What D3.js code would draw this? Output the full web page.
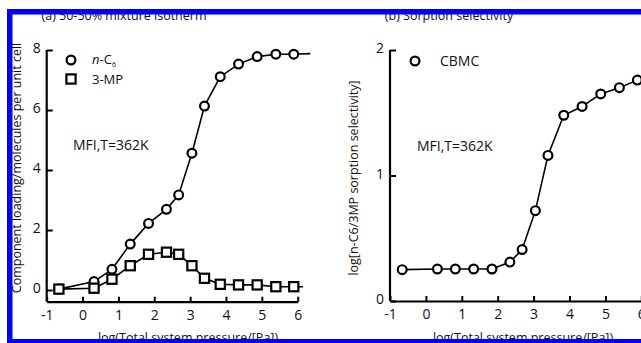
<!DOCTYPE html>
<html>
<head>
<meta charset="utf-8">
<script src="https://cdn.jsdelivr.net/npm/d3@7/dist/d3.min.js"></script>
<style>
  html, body { margin: 0; padding: 0; background: #fff; }
  svg { display: block; }
  text { font-family: "Open Sans", "Noto Sans", sans-serif; fill: #111; }
</style>
</head>
<body>
<svg id="chart" width="641" height="343"></svg>
<script>
// log10 of total system pressure (Pa) for each simulated state point
const logP = [-0.66, 0.32, 0.82, 1.33, 1.84, 2.34, 2.68, 3.05, 3.40, 3.84, 4.35, 4.87, 5.39, 5.89];

// (a) component loadings, molecules per unit cell
const loadNC6 = [0.03, 0.28, 0.69, 1.53, 2.22, 2.69, 3.17, 4.56, 6.13, 7.11, 7.53, 7.78, 7.86, 7.86];
const load3MP = [0.03, 0.06, 0.36, 0.81, 1.19, 1.26, 1.19, 0.81, 0.39, 0.19, 0.17, 0.17, 0.11, 0.11];
const tailNC6 = [6.35, 7.88];
const tail3MP = [6.15, 0.11];

// (b) log of n-C6 / 3-MP sorption selectivity
const logSel = [0.25, 0.255, 0.255, 0.255, 0.255, 0.31, 0.41, 0.72, 1.16, 1.48, 1.55, 1.65, 1.70, 1.76];

const xTicks = [-1, 0, 1, 2, 3, 4, 5, 6];
const yTicksA = [0, 2, 4, 6, 8];
const yTicksB = [0, 1, 2];

const svg = d3.select("#chart");
const plain = d => String(d);   // hyphen-minus labels, e.g. "-1"

function drawAxes(g, x, y, yTicks, axisY) {
  const xAxis = d3.axisBottom(x).tickValues(xTicks).tickSizeInner(-5).tickSizeOuter(0).tickPadding(8)
    .tickFormat(plain);
  const gx = g.append("g").attr("transform", `translate(0,${axisY})`).call(xAxis);
  const yAxis = d3.axisLeft(y).tickValues(yTicks).tickSizeInner(-6).tickSizeOuter(0).tickPadding(6)
    .tickFormat(plain);
  const gy = g.append("g").attr("transform", `translate(${x.range()[0]},0)`).call(yAxis);
  [gx, gy].forEach(a => {
    a.select(".domain").attr("stroke", "#000").attr("stroke-width", 2.2);
    a.selectAll(".tick line").attr("stroke", "#000").attr("stroke-width", 2);
    a.selectAll(".tick text").style("font-size", "14px").style("font-family", "Open Sans, sans-serif").attr("fill", "#111");
  });
  // vertical axis runs from its top tick down to the horizontal axis
  gy.select(".domain").attr("d", `M0,${y.range()[1]}V${axisY}`);
  gy.selectAll(".tick text").attr("dy", "0.2em");
}

function lineOf(x, y, xs, ys) {
  return d3.line().x((d, i) => x(xs[i])).y((d, i) => y(ys[i]))(ys);
}

// ---- panel (a): mixture isotherm ----
{
  const x = d3.scaleLinear().domain([-1, 6]).range([46.7, 297.7]);
  const y = d3.scaleLinear().domain([-0.39, 8]).range([301.7, 50]);
  const g = svg.append("g");
  drawAxes(g, x, y, yTicksA, 301.7);

  const xsN = logP.concat([tailNC6[0]]), ysN = loadNC6.concat([tailNC6[1]]);
  const xsM = logP.concat([tail3MP[0]]), ysM = load3MP.concat([tail3MP[1]]);
  g.append("path").attr("d", lineOf(x, y, xsN, ysN)).attr("fill", "none").attr("stroke", "#000").attr("stroke-width", 1.6);
  g.append("path").attr("d", lineOf(x, y, xsM, ysM)).attr("fill", "none").attr("stroke", "#000").attr("stroke-width", 1.6);

  g.selectAll("circle.nc6").data(loadNC6).join("circle").attr("class", "nc6")
    .attr("cx", (d, i) => x(logP[i])).attr("cy", d => y(d)).attr("r", 4.4)
    .attr("fill", "#fff").attr("stroke", "#000").attr("stroke-width", 2.2);
  g.selectAll("rect.mp").data(load3MP).join("rect").attr("class", "mp")
    .attr("x", (d, i) => x(logP[i]) - 4.6).attr("y", d => y(d) - 4.6).attr("width", 9.2).attr("height", 9.2)
    .attr("fill", "#fff").attr("stroke", "#000").attr("stroke-width", 2.2);

  // legend
  g.append("circle").attr("cx", 71).attr("cy", 60).attr("r", 4.4).attr("fill", "#fff").attr("stroke", "#000").attr("stroke-width", 2.2);
  const t1 = g.append("text").attr("x", 92).attr("y", 64).style("font-size", "13px");
  t1.append("tspan").text("n").style("font-style", "italic");
  t1.append("tspan").text("-C");
  t1.append("tspan").text("6").attr("dy", 3).style("font-size", "7px");
  g.append("rect").attr("x", 66.4).attr("y", 74.4).attr("width", 9.2).attr("height", 9.2).attr("fill", "#fff").attr("stroke", "#000").attr("stroke-width", 2.2);
  g.append("text").attr("x", 92).attr("y", 84).style("font-size", "13px").text("3-MP");
  g.append("text").attr("x", 73).attr("y", 150).style("font-size", "14px").text("MFI,T=362K");

  g.append("text").attr("x", 124).attr("y", 20).attr("text-anchor", "middle").style("font-size", "12.5px").attr("fill", "#222")
    .text("(a) 50-50% mixture isotherm");
  g.append("text").attr("x", 188).attr("y", 341.5).attr("text-anchor", "middle").style("font-size", "12.5px").attr("fill", "#222")
    .text("log(Total system pressure/[Pa])");
  g.append("text").attr("transform", "translate(21,168) rotate(-90)").attr("text-anchor", "middle")
    .style("font-size", "12.5px").attr("fill", "#222").text("Component loading/molecules per unit cell");
}

// ---- panel (b): sorption selectivity ----
{
  const x = d3.scaleLinear().domain([-1, 6]).range([390, 641.3]);
  const y = d3.scaleLinear().domain([0, 2]).range([301, 50]);
  const g = svg.append("g");
  drawAxes(g, x, y, yTicksB, 301);

  g.append("path").attr("d", lineOf(x, y, logP, logSel)).attr("fill", "none").attr("stroke", "#000").attr("stroke-width", 1.6);
  g.selectAll("circle.sel").data(logSel).join("circle").attr("class", "sel")
    .attr("cx", (d, i) => x(logP[i])).attr("cy", d => y(d)).attr("r", 4.4)
    .attr("fill", "#fff").attr("stroke", "#000").attr("stroke-width", 2.2);

  g.append("circle").attr("cx", 415).attr("cy", 61).attr("r", 4.4).attr("fill", "#fff").attr("stroke", "#000").attr("stroke-width", 2.2);
  g.append("text").attr("x", 440).attr("y", 66).style("font-size", "14px").text("CBMC");
  g.append("text").attr("x", 417).attr("y", 151).style("font-size", "14px").text("MFI,T=362K");

  g.append("text").attr("x", 449).attr("y", 20).attr("text-anchor", "middle").style("font-size", "12.5px").attr("fill", "#222")
    .text("(b) Sorption selectivity");
  g.append("text").attr("x", 523).attr("y", 341.5).attr("text-anchor", "middle").style("font-size", "12.5px").attr("fill", "#222")
    .text("log(Total system pressure/[Pa])");
  g.append("text").attr("transform", "translate(358,178) rotate(-90)").attr("text-anchor", "middle")
    .style("font-size", "12.5px").attr("fill", "#222").text("log[n-C6/3MP sorption selectivity]");
}

// blue frame drawn over the figure edges
const frame = svg.append("g").attr("fill", "#0000ff");
frame.append("rect").attr("x", 7).attr("y", 9).attr("width", 634).attr("height", 5.5);
frame.append("rect").attr("x", 7).attr("y", 9).attr("width", 5.5).attr("height", 334);
frame.append("rect").attr("x", 7).attr("y", 339).attr("width", 634).attr("height", 4);
</script>
</body>
</html>
